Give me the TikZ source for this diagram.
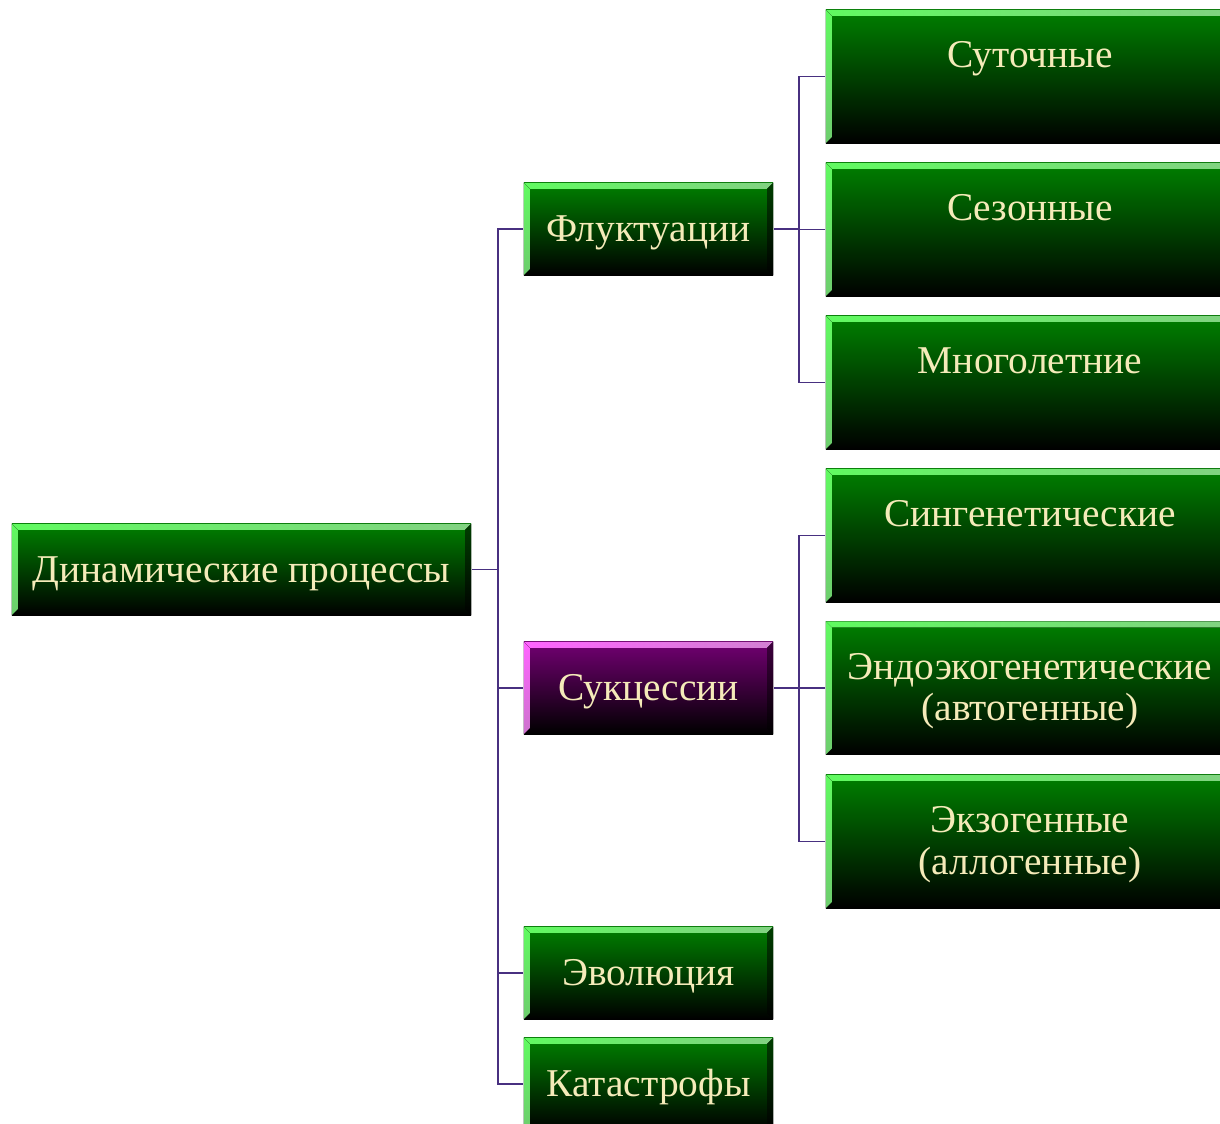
\documentclass[tikz,border=0pt]{standalone}
\usepackage{fontspec}
\setmainfont{Liberation Serif}
\usepackage{tikz}
\usetikzlibrary{shapes}
\pgfdeclarelayer{edgelayer}
\pgfdeclarelayer{nodelayer}
\pgfsetlayers{edgelayer,nodelayer,main}
\definecolor{boxgreen}{RGB}{0,128,0}
\definecolor{litegreen}{RGB}{96,250,96}
\definecolor{palegreen}{RGB}{130,210,130}
\definecolor{sidegreen}{RGB}{110,205,110}
\definecolor{darkgreen}{RGB}{0,62,0}
\definecolor{boxpurple}{RGB}{114,0,114}
\definecolor{litepurple}{RGB}{255,100,255}
\definecolor{palepurple}{RGB}{210,128,210}
\definecolor{sidepurple}{RGB}{205,115,205}
\definecolor{darkpurple}{RGB}{62,0,62}
\definecolor{boxtext}{RGB}{245,235,185}
\definecolor{wire}{RGB}{72,48,128}
\newlength{\bw}
\setlength{\bw}{0.06cm}
% bevel: top left, top right, left bottom, right side
\newcommand{\bevel}[4]{%
	\fill [left color=#1, right color=#2] (path picture bounding box.north west) -- (path picture bounding box.north east) -- ([xshift=-\bw, yshift=-\bw]path picture bounding box.north east) -- ([xshift=\bw, yshift=-\bw]path picture bounding box.north west) -- cycle;
	\fill [top color=#1, bottom color=#3] (path picture bounding box.north west) -- ([xshift=\bw, yshift=-\bw]path picture bounding box.north west) -- ([xshift=\bw, yshift=\bw]path picture bounding box.south west) -- (path picture bounding box.south west) -- cycle;
	\fill [top color=#4, bottom color=black] (path picture bounding box.north east) -- ([xshift=-\bw, yshift=-\bw]path picture bounding box.north east) -- ([xshift=-\bw, yshift=\bw]path picture bounding box.south east) -- (path picture bounding box.south east) -- cycle;
}
\tikzstyle{box}=[rectangle, inner sep=0pt, text=boxtext, font=\fontsize{11.2}{11.7}\selectfont, align=center, text height=0.58cm, text depth=0.34cm, top color=boxgreen, bottom color=black, path picture={\bevel{litegreen}{palegreen}{sidegreen}{darkgreen}}]
\tikzstyle{purplebox}=[box, top color=boxpurple, bottom color=black, path picture={\bevel{litepurple}{palepurple}{sidepurple}{darkpurple}}]
\tikzstyle{midbox}=[minimum width=2.49cm, minimum height=0.92cm]
\tikzstyle{leafbox}=[minimum width=4.08cm, minimum height=1.33cm, text depth=0.75cm]
\tikzstyle{twoline}=[text height=0.99cm, text depth=0.34cm]
\tikzstyle{wire}=[draw=wire, line width=0.5pt]

\begin{document}
\begin{tikzpicture}[x=0.01cm, y=-0.01cm]
	\useasboundingbox (0, 0) rectangle (1220, 1124);
	\begin{pgfonlayer}{nodelayer}
		\node [box, minimum width=4.59cm, minimum height=0.91cm, text depth=0.33cm] (0) at (241.5, 569.5) {Динамические процессы};
		\node [box, midbox] (1) at (648.5, 229) {Флуктуации};
		\node [purplebox, midbox] (2) at (648.5, 688) {Сукцессии};
		\node [box, midbox] (3) at (648.5, 973) {Эволюция};
		\node [box, midbox] (4) at (648.5, 1084) {Катастрофы};
		\node [box, leafbox] (5) at (1030, 76.5) {Суточные};
		\node [box, leafbox] (6) at (1030, 229.5) {Сезонные};
		\node [box, leafbox] (7) at (1030, 382.5) {Многолетние};
		\node [box, leafbox] (8) at (1030, 535.5) {Сингенетические};
		\node [box, leafbox, twoline] (9) at (1030, 688) {Эндоэкогенетические\\(автогенные)};
		\node [box, leafbox, twoline] (10) at (1030, 841.5) {Экзогенные\\(аллогенные)};
		\coordinate (11) at (498, 569.5);
		\coordinate (12) at (799, 229);
		\coordinate (13) at (799, 688);
	\end{pgfonlayer}
	\begin{pgfonlayer}{edgelayer}
		\draw [wire] (0.east) to (11);
		\draw [wire] (11) |- (1.west);
		\draw [wire] (11) |- (2.west);
		\draw [wire] (11) |- (3.west);
		\draw [wire] (11) |- (4.west);
		\draw [wire] (1.east) to (12);
		\draw [wire] (12) |- (5.west);
		\draw [wire] (12) |- (6.west);
		\draw [wire] (12) |- (7.west);
		\draw [wire] (2.east) to (13);
		\draw [wire] (13) |- (8.west);
		\draw [wire] (13) |- (9.west);
		\draw [wire] (13) |- (10.west);
	\end{pgfonlayer}
\end{tikzpicture}
\end{document}
